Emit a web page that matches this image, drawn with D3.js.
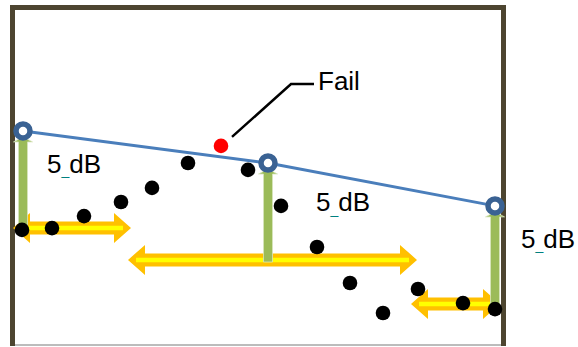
<!DOCTYPE html>
<html>
<head>
<meta charset="utf-8">
<script src="https://cdn.jsdelivr.net/npm/d3@7"></script>
<style>
  body { margin: 0; background: #fff; }
  text { font-family: "Liberation Sans", Arial, sans-serif; }
</style>
</head>
<body>
<div id="chart"></div>
<script>
// measured points (x, y in chart units)
var dotX = [2.4, 8.4, 14.8, 22.2, 28.4, 35.6, 47.6, 54.2, 61.4, 68, 74.6, 81.6, 90.6, 97];
var dotY = [38.7, 39.3, 43.3, 48, 52.7, 61, 58.7, 46.7, 33, 21, 11, 19, 14.3, 12.3];

// limit line corner points
var limitX = [2.6, 51.6, 97];
var limitY = [71.7, 61, 46.7];

// 5 dB drop arrows go from limit point down to these
var dropY = [39.3, 28, 12];

// horizontal double arrows: start, end, level
var spanX0 = [0.6, 23.6, 80.2];
var spanX1 = [24.2, 81.4, 98];
var spanY = [39.3, 28.7, 14];

// failing point
var failX = [42.2];
var failY = [66.7];

// labels
var labelText = ["5", "5", "5"];
var labelX = [7.4, 61.2, 102.2];
var labelY = [57.7, 45, 32.7];
var failLabel = "Fail";
var calloutX = [44.4, 56.2, 60.8];
var calloutY = [69.7, 87.3, 87.3];

var width = 578, height = 347;

var svg = d3.select("#chart").append("svg")
    .attr("width", width)
    .attr("height", height);

var x = d3.scaleLinear().domain([0, 99]).range([10, 505]);
var y = d3.scaleLinear().domain([0, 113]).range([346, 7]);

// frame
svg.append("line")
    .attr("x1", x(0)).attr("x2", x(99))
    .attr("y1", y(0.3)).attr("y2", y(0.3))
    .attr("stroke", "#a6a6a6").attr("stroke-width", 1.5);
svg.append("path")
    .attr("d", "M" + (x(0) + 2.5) + "," + y(0) + "V" + (y(113) + 0.5) + "H" + (x(99) - 1.5) + "V" + y(0))
    .attr("fill", "none")
    .attr("stroke", "#4d4530")
    .attr("stroke-width", 5);

// limit line
var line = d3.line().x(function(d) { return x(d[0]); }).y(function(d) { return y(d[1]); });
svg.append("path")
    .datum(d3.zip(limitX, limitY))
    .attr("d", line)
    .attr("fill", "none")
    .attr("stroke", "#4a7ebb")
    .attr("stroke-width", 3);

// yellow double arrows
var shaft = 6.5, head = 15, headLen = 17;
svg.selectAll(".span")
    .data(d3.range(spanX0.length))
    .enter().append("path")
    .attr("class", "span")
    .attr("d", function(i) {
        var a = x(spanX0[i]), b = x(spanX1[i]), c = y(spanY[i]);
        return "M" + a + "," + c +
            "L" + (a + headLen) + "," + (c - head) +
            "L" + (a + headLen) + "," + (c - shaft) +
            "L" + (b - headLen) + "," + (c - shaft) +
            "L" + (b - headLen) + "," + (c - head) +
            "L" + b + "," + c +
            "L" + (b - headLen) + "," + (c + head) +
            "L" + (b - headLen) + "," + (c + shaft) +
            "L" + (a + headLen) + "," + (c + shaft) +
            "L" + (a + headLen) + "," + (c + head) + "Z";
    })
    .attr("fill", "#ffc000");
svg.selectAll(".spanInner")
    .data(d3.range(spanX0.length))
    .enter().append("line")
    .attr("class", "spanInner")
    .attr("x1", function(i) { return x(spanX0[i]) + 8; })
    .attr("x2", function(i) { return x(spanX1[i]) - 8; })
    .attr("y1", function(i) { return y(spanY[i]); })
    .attr("y2", function(i) { return y(spanY[i]); })
    .attr("stroke", "#ffff00")
    .attr("stroke-width", 4.5);

// green drop arrows
svg.selectAll(".drop")
    .data(d3.range(limitX.length))
    .enter().append("path")
    .attr("class", "drop")
    .attr("d", function(i) {
        var cx = x(limitX[i]), top = y(limitY[i]) + 6, bot = y(dropY[i]);
        return "M" + cx + "," + top +
            "L" + (cx + 9.5) + "," + (top + 5) +
            "L" + (cx + 4.5) + "," + (top + 5) +
            "L" + (cx + 4.5) + "," + bot +
            "L" + (cx - 4.5) + "," + bot +
            "L" + (cx - 4.5) + "," + (top + 5) +
            "L" + (cx - 9.5) + "," + (top + 5) + "Z";
    })
    .attr("fill", "#9bbb59")
    .attr("stroke", "#d7e4bd")
    .attr("stroke-width", 0.8);

// measured dots
svg.selectAll(".dot")
    .data(d3.zip(dotX, dotY))
    .enter().append("circle")
    .attr("class", "dot")
    .attr("cx", function(d) { return x(d[0]); })
    .attr("cy", function(d) { return y(d[1]); })
    .attr("r", 7.3)
    .attr("fill", "#000");

// limit markers
svg.selectAll(".marker")
    .data(d3.zip(limitX, limitY))
    .enter().append("circle")
    .attr("class", "marker")
    .attr("cx", function(d) { return x(d[0]); })
    .attr("cy", function(d) { return y(d[1]); })
    .attr("r", 7)
    .attr("fill", "#fff")
    .attr("stroke", "#3a6293")
    .attr("stroke-width", 5.5);

// fail point and callout
svg.selectAll(".fail")
    .data(d3.zip(failX, failY))
    .enter().append("circle")
    .attr("cx", function(d) { return x(d[0]); })
    .attr("cy", function(d) { return y(d[1]); })
    .attr("r", 7.3)
    .attr("fill", "#ff0000");

svg.append("path")
    .datum(d3.zip(calloutX, calloutY))
    .attr("d", line)
    .attr("fill", "none")
    .attr("stroke", "#000")
    .attr("stroke-width", 2.5);

svg.append("text")
    .attr("x", x(calloutX[2]) + 4)
    .attr("y", y(calloutY[2]) + 6)
    .attr("font-size", 26)
    .attr("fill", "#000")
    .text(failLabel);

// 5 dB labels
labelText.forEach(function(t, i) {
    var tx = svg.append("text")
        .attr("x", x(labelX[i]))
        .attr("y", y(labelY[i]))
        .attr("font-size", 26)
        .attr("fill", "#000");
    tx.append("tspan").text(t);
    tx.append("tspan").text("_")
        .attr("font-size", 14)
        .attr("fill", "#008080")
        .attr("dy", 2.5);
    tx.append("tspan").text("dB")
        .attr("dy", -2.5);
});
</script>
</body>
</html>
